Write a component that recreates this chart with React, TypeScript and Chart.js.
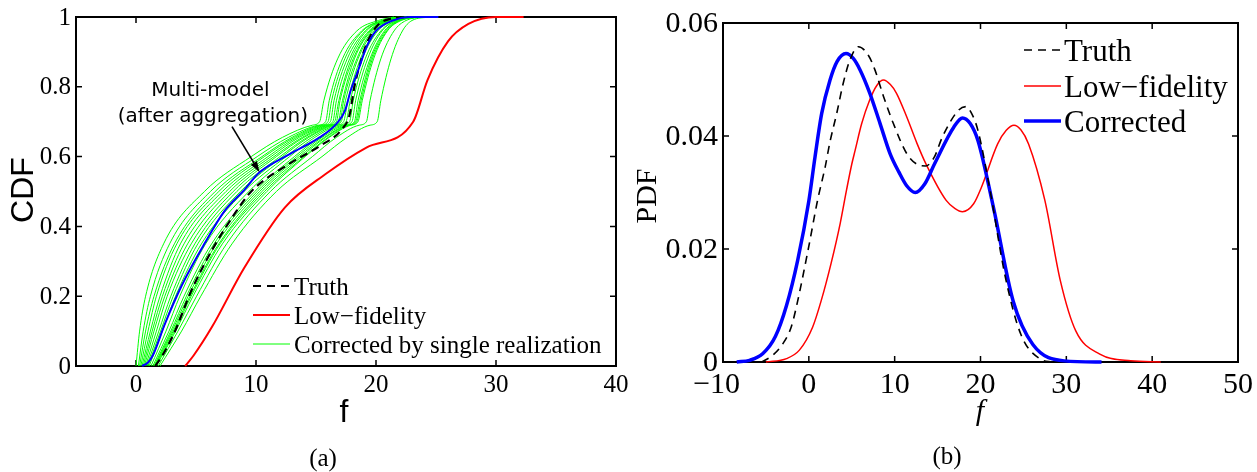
import React, { useEffect, useRef } from 'react';
import { Chart, registerables } from 'chart.js';

Chart.register(...registerables);

// ---------- Panel (a): CDF ----------
const CDF_X_TICKS = [0, 10, 20, 30, 40];
const CDF_Y_TICKS = [0, 0.2, 0.4, 0.6, 0.8, 1];

const CDF_LEVELS = [0, 0.1, 0.2, 0.35, 0.5, 0.6, 0.655, 0.69, 0.7, 0.76, 0.88, 0.96, 0.99, 1.0];
const GREEN_01 = [0.0, 0.3, 0.8, 2.3, 5.7, 9.6, 12.2, 14.7, 15.3, 15.65, 16.8, 18.4, 20.2, 21.5];
const GREEN_02 = [0.2, 0.6, 1.2, 2.8, 6.2, 10.1, 12.7, 15.2, 15.8, 16.1, 17.2, 18.8, 20.5, 21.8];
const GREEN_03 = [0.3, 0.8, 1.5, 3.2, 6.6, 10.5, 13.0, 15.4, 16.0, 16.3, 17.4, 18.9, 20.6, 21.9];
const GREEN_04 = [0.4, 1.0, 1.7, 3.4, 6.9, 10.7, 13.2, 15.6, 16.2, 16.5, 17.6, 19.1, 20.7, 22.0];
const GREEN_05 = [0.5, 1.2, 2.0, 3.7, 7.2, 11.0, 13.4, 15.8, 16.4, 16.7, 17.8, 19.2, 20.8, 22.2];
const GREEN_06 = [0.6, 1.35, 2.2, 4.0, 7.5, 11.25, 13.6, 15.95, 16.55, 16.9, 17.95, 19.4, 20.9, 22.3];
const GREEN_07 = [0.7, 1.5, 2.4, 4.3, 7.8, 11.5, 13.85, 16.1, 16.7, 17.0, 18.1, 19.5, 21.0, 22.4];
const GREEN_08 = [0.8, 1.7, 2.6, 4.6, 8.1, 11.7, 14.0, 16.25, 16.85, 17.2, 18.2, 19.6, 21.1, 22.5];
const GREEN_09 = [0.9, 1.9, 2.9, 4.9, 8.4, 12.0, 14.25, 16.4, 17.0, 17.3, 18.4, 19.7, 21.2, 22.55];
const GREEN_10 = [1.0, 2.05, 3.1, 5.15, 8.7, 12.2, 14.4, 16.5, 17.1, 17.45, 18.5, 19.85, 21.3, 22.6];
const GREEN_11 = [1.1, 2.2, 3.3, 5.45, 9.0, 12.5, 14.65, 16.7, 17.3, 17.65, 18.7, 20.0, 21.4, 22.8];
const GREEN_12 = [1.25, 2.5, 3.65, 5.8, 9.4, 12.8, 14.9, 16.9, 17.5, 17.85, 18.85, 20.15, 21.5, 22.9];
const GREEN_13 = [1.4, 2.75, 4.0, 6.3, 9.9, 13.2, 15.3, 17.2, 17.8, 18.1, 19.1, 20.4, 21.7, 23.1];
const GREEN_14 = [1.5, 2.9, 4.2, 6.5, 10.1, 13.4, 15.5, 17.4, 18.0, 18.3, 19.3, 20.5, 21.8, 23.2];
const GREEN_15 = [1.55, 3.0, 4.35, 6.7, 10.3, 13.6, 15.7, 17.6, 18.2, 18.5, 19.5, 20.7, 21.9, 23.3];
const GREEN_16 = [1.6, 3.1, 4.5, 6.9, 10.5, 13.8, 15.8, 17.7, 18.3, 18.65, 19.6, 20.8, 22.0, 23.4];
const GREEN_17 = [1.65, 3.2, 4.6, 7.0, 10.7, 14.0, 16.0, 17.8, 18.4, 18.75, 19.7, 20.9, 22.0, 23.45];
const GREEN_18 = [1.7, 3.3, 4.75, 7.2, 10.9, 14.1, 16.1, 17.9, 18.5, 18.85, 19.8, 20.95, 22.1, 23.5];
const GREEN_19 = [1.85, 3.5, 5.05, 7.55, 11.2, 14.7, 16.7, 18.6, 19.2, 19.5, 20.4, 21.5, 22.5, 23.9];
const GREEN_20 = [2.0, 3.8, 5.4, 8.0, 11.7, 15.5, 17.6, 19.5, 20.1, 20.4, 21.25, 22.2, 23.0, 24.5];
const GREEN_REALIZATIONS = [
  GREEN_01, GREEN_02, GREEN_03, GREEN_04, GREEN_05, GREEN_06, GREEN_07, GREEN_08, GREEN_09, GREEN_10,
  GREEN_11, GREEN_12, GREEN_13, GREEN_14, GREEN_15, GREEN_16, GREEN_17, GREEN_18, GREEN_19, GREEN_20,
];

const MULTI_CDF_F = [0.5, 1.0, 1.4, 2.4, 3.8, 5.7, 7.4, 8.9, 10.3, 12.8, 15.3, 16.7, 17.4, 17.9, 18.5, 19.2, 20.0, 21.4, 22.8, 25.2];
const MULTI_CDF_P = [0, 0.01, 0.03, 0.12, 0.23, 0.35, 0.445, 0.5, 0.555, 0.607, 0.655, 0.694, 0.73, 0.79, 0.846, 0.913, 0.96, 0.99, 1.0, 1.0];

const TRUTH_CDF_F = [1.6, 2.2, 3.25, 4.6, 6.3, 8.2, 9.6, 12.8, 15.3, 17.2, 17.8, 18.2, 18.75, 19.3, 20.1, 21.2, 22.6];
const TRUTH_CDF_P = [0, 0.03, 0.10, 0.215, 0.33, 0.435, 0.5, 0.58, 0.63, 0.68, 0.72, 0.80, 0.875, 0.93, 0.975, 0.995, 1.0];

const LOWFI_CDF_F = [4.1, 4.8, 6.3, 9.0, 12.4, 15.8, 19.2, 23.1, 24.3, 26.0, 27.7, 30.0, 32.3];
const LOWFI_CDF_P = [0, 0.03, 0.11, 0.28, 0.454, 0.55, 0.626, 0.70, 0.82, 0.93, 0.98, 1.0, 1.0];

const LEGEND_A_LABELS = ['Truth', 'Low\u2212fidelity', 'Corrected by single realization'];
const ANNOT_LINES = ['Multi-model', '(after aggregation)'];
const ANNOT_TEXT_AT = [[6.2, 0.788], [6.4, 0.713]];
const ANNOT_ARROW_FROM = [8.0, 0.686];
const ANNOT_ARROW_TO = [10.3, 0.555];

// ---------- Panel (b): PDF ----------
const PDF_X_TICKS = [-10, 0, 10, 20, 30, 40, 50];
const PDF_Y_TICKS = [0, 0.02, 0.04, 0.06];

const TRUTH_PDF_F = [-5.5, -4.2, -3.0, -2.05, -1.46, 0.0, 1.0, 1.9, 2.47, 3.25, 4.0, 4.8, 5.77, 6.93, 7.7, 8.7, 9.85, 11.4, 12.6, 13.6, 14.6, 15.55, 17.4, 18.3, 18.9, 19.7, 21.05, 22.9, 24.7, 27.0, 28.4];
const TRUTH_PDF_P = [0, 0.0012, 0.0033, 0.0062, 0.0097, 0.0205, 0.0285, 0.0345, 0.0390, 0.0440, 0.0493, 0.0535, 0.0558, 0.0543, 0.0517, 0.0470, 0.0422, 0.0369, 0.0350, 0.0347, 0.0362, 0.0398, 0.0445, 0.0452, 0.0442, 0.0410, 0.0309, 0.0150, 0.0049, 0.0005, 0];

const LOWFI_PDF_F = [-5.0, -2.6, -1.1, 0.45, 1.45, 2.6, 3.65, 4.4, 5.0, 5.4, 6.16, 7.1, 7.9, 8.7, 9.5, 10.2, 11.4, 12.6, 13.6, 16.0, 17.0, 17.9, 19.2, 20.1, 22.0, 23.0, 23.9, 24.7, 25.6, 27.5, 29.3, 31.1, 33.9, 37.5, 41.0];
const LOWFI_PDF_P = [0, 0.0006, 0.0021, 0.0062, 0.0109, 0.0175, 0.0245, 0.0305, 0.0350, 0.0375, 0.0422, 0.0464, 0.0489, 0.0499, 0.0491, 0.0476, 0.0434, 0.0387, 0.0352, 0.0286, 0.0272, 0.0266, 0.0280, 0.0309, 0.0386, 0.0410, 0.0419, 0.0411, 0.0386, 0.0286, 0.0144, 0.0055, 0.0014, 0.0002, 0];

const CORR_PDF_F = [-8.4, -6.9, -5.35, -3.9, -2.6, -1.3, 0.0, 0.72, 1.5, 2.47, 3.3, 4.33, 5.2, 5.97, 7.1, 8.3, 9.46, 10.5, 11.4, 12.4, 13.5, 14.65, 16.9, 17.9, 18.8, 19.7, 21.5, 23.8, 26.1, 29.75, 34.1];
const CORR_PDF_P = [0, 0.0003, 0.0015, 0.0045, 0.0100, 0.0180, 0.0285, 0.0363, 0.0440, 0.0499, 0.0532, 0.0546, 0.0537, 0.0517, 0.0476, 0.0422, 0.0369, 0.0336, 0.0312, 0.0300, 0.0315, 0.0351, 0.0416, 0.0432, 0.0422, 0.0392, 0.0274, 0.0108, 0.0031, 0.0002, 0];

const LEGEND_B_LABELS = ['Truth', 'Low\u2212fidelity', 'Corrected'];

// ---------- helpers ----------
const SERIF = '"Liberation Serif", "Times New Roman", serif';
const SANS = '"Liberation Sans", Arial, sans-serif';

const toPoints = (xs: number[], ys: number[]) => xs.map((v, i) => ({ x: v, y: ys[i] }));
const fmtTick = (v: number) => (v < 0 ? '\u2212' + String(Math.abs(v)) : String(v));

function drawFrame(chart: any, tickLen: number) {
  const { ctx, chartArea, scales } = chart;
  const { left, right, top, bottom } = chartArea;
  ctx.save();
  ctx.strokeStyle = '#000';
  ctx.lineWidth = 2;
  ctx.strokeRect(left, top, right - left, bottom - top);
  ctx.lineWidth = 1.5;
  ctx.beginPath();
  scales.x.ticks.forEach((t: any) => {
    const px = scales.x.getPixelForValue(t.value);
    ctx.moveTo(px, bottom); ctx.lineTo(px, bottom - tickLen);
    ctx.moveTo(px, top); ctx.lineTo(px, top + tickLen);
  });
  scales.y.ticks.forEach((t: any) => {
    const py = scales.y.getPixelForValue(t.value);
    ctx.moveTo(left, py); ctx.lineTo(left + tickLen, py);
    ctx.moveTo(right, py); ctx.lineTo(right - tickLen, py);
  });
  ctx.stroke();
  ctx.restore();
}

// tick labels drawn from the scales' own ticks
function drawTickLabels(chart: any, fontSize: number, xLabelMid: number, yGap: number, yShift: number) {
  const { ctx, chartArea, scales } = chart;
  ctx.save();
  ctx.fillStyle = '#000';
  ctx.font = `${fontSize}px ${SERIF}`;
  ctx.textBaseline = 'middle';
  scales.x.ticks.forEach((t: any) => {
    const px = scales.x.getPixelForValue(t.value);
    if (t.value < 0) {
      ctx.textAlign = 'right';
      ctx.fillText(fmtTick(t.value), px + fontSize * 0.57, xLabelMid);
    } else {
      ctx.textAlign = 'center';
      ctx.fillText(fmtTick(t.value), px, xLabelMid);
    }
  });
  ctx.textAlign = 'right';
  scales.y.ticks.forEach((t: any) => {
    ctx.fillText(fmtTick(t.value), chartArea.left - yGap, scales.y.getPixelForValue(t.value) + yShift);
  });
  ctx.restore();
}

function drawLegend(ctx: CanvasRenderingContext2D, items: { label: string; color: string; width: number; dash: number[] }[],
  x0: number, x1: number, tx: number, rows: number[], fontSize: number) {
  ctx.save();
  ctx.font = `${fontSize}px ${SERIF}`;
  ctx.textAlign = 'left';
  ctx.textBaseline = 'alphabetic';
  items.forEach((it, i) => {
    ctx.beginPath();
    ctx.strokeStyle = it.color;
    ctx.lineWidth = it.width;
    ctx.setLineDash(it.dash);
    ctx.moveTo(x0, rows[i]);
    ctx.lineTo(x1, rows[i]);
    ctx.stroke();
    ctx.setLineDash([]);
    ctx.fillStyle = '#000';
    ctx.fillText(it.label, tx, rows[i] + fontSize * 0.34);
  });
  ctx.restore();
}

function rotatedText(ctx: CanvasRenderingContext2D, text: string, x: number, y: number, font: string) {
  ctx.save();
  ctx.translate(x, y);
  ctx.rotate(-Math.PI / 2);
  ctx.font = font;
  ctx.fillStyle = '#000';
  ctx.textAlign = 'center';
  ctx.textBaseline = 'middle';
  ctx.fillText(text, 0, 0);
  ctx.restore();
}

const cdfDecor = {
  id: 'cdfDecor',
  beforeDatasetsDraw(chart: any) { drawFrame(chart, 6); drawTickLabels(chart, 25, 385.5, 5, 1); },
  afterDatasetsDraw(chart: any) {
    const { ctx, scales: { x, y } } = chart;
    ctx.save();
    ctx.fillStyle = '#000';
    ctx.font = '20px "DejaVu Sans", sans-serif';
    ctx.textAlign = 'center';
    ctx.textBaseline = 'middle';
    ANNOT_LINES.forEach((s, i) => {
      ctx.fillText(s, x.getPixelForValue(ANNOT_TEXT_AT[i][0]), y.getPixelForValue(ANNOT_TEXT_AT[i][1]));
    });
    const ax0 = x.getPixelForValue(ANNOT_ARROW_FROM[0]);
    const ay0 = y.getPixelForValue(ANNOT_ARROW_FROM[1]);
    const ax1 = x.getPixelForValue(ANNOT_ARROW_TO[0]);
    const ay1 = y.getPixelForValue(ANNOT_ARROW_TO[1]);
    const ang = Math.atan2(ay1 - ay0, ax1 - ax0);
    const hl = 11, hw = 3.5;
    ctx.strokeStyle = '#000';
    ctx.lineWidth = 1.6;
    ctx.beginPath();
    ctx.moveTo(ax0, ay0);
    ctx.lineTo(ax1 - hl * Math.cos(ang), ay1 - hl * Math.sin(ang));
    ctx.stroke();
    ctx.beginPath();
    ctx.moveTo(ax1, ay1);
    ctx.lineTo(ax1 - hl * Math.cos(ang) - hw * Math.sin(ang), ay1 - hl * Math.sin(ang) + hw * Math.cos(ang));
    ctx.lineTo(ax1 - hl * Math.cos(ang) + hw * Math.sin(ang), ay1 - hl * Math.sin(ang) - hw * Math.cos(ang));
    ctx.closePath();
    ctx.fill();
    ctx.restore();

    drawLegend(ctx, [
      { label: LEGEND_A_LABELS[0], color: '#000', width: 2.2, dash: [8, 6] },
      { label: LEGEND_A_LABELS[1], color: '#ff0000', width: 2, dash: [] },
      { label: LEGEND_A_LABELS[2], color: '#00ff00', width: 1, dash: [] },
    ], 253, 290, 294, [286, 315, 344], 25);

    rotatedText(ctx, 'CDF', 24, 190, `32px ${SANS}`);
    ctx.save();
    ctx.fillStyle = '#000';
    ctx.font = `32px ${SANS}`;
    ctx.textAlign = 'center';
    ctx.textBaseline = 'alphabetic';
    ctx.fillText('f', 344, 422);
    ctx.font = `25px ${SERIF}`;
    ctx.textBaseline = 'middle';
    ctx.fillText('(a)', 323, 459);
    ctx.restore();
  },
};

const pdfDecor = {
  id: 'pdfDecor',
  beforeDatasetsDraw(chart: any) { drawFrame(chart, 6); drawTickLabels(chart, 30, 385.5, 5, 1); },
  afterDatasetsDraw(chart: any) {
    const { ctx } = chart;
    drawLegend(ctx, [
      { label: LEGEND_B_LABELS[0], color: '#000', width: 1.6, dash: [8, 6] },
      { label: LEGEND_B_LABELS[1], color: '#ff0000', width: 1.5, dash: [] },
      { label: LEGEND_B_LABELS[2], color: '#0000ff', width: 3.5, dash: [] },
    ], 424, 461, 464, [50, 86, 121], 31);
    rotatedText(ctx, 'PDF', 48, 196, `30px ${SERIF}`);
    ctx.save();
    ctx.fillStyle = '#000';
    ctx.textAlign = 'center';
    ctx.textBaseline = 'middle';
    ctx.font = `italic 30px ${SERIF}`;
    ctx.fillText('f', 380, 412);
    ctx.font = `25px ${SERIF}`;
    ctx.fillText('(b)', 347, 457);
    ctx.restore();
  },
};

function lineDs(data: { x: number; y: number }[], color: string, width: number, order: number, dash: number[] = []) {
  return {
    data,
    borderColor: color,
    backgroundColor: color,
    borderWidth: width,
    borderDash: dash,
    pointRadius: 0,
    pointHoverRadius: 0,
    fill: false,
    cubicInterpolationMode: 'monotone' as const,
    order,
    clip: false as const,
  };
}

function axis(min: number, max: number, tickVals: number[], fitKey: 'height' | 'width', fitVal: number) {
  return {
    type: 'linear' as const,
    min,
    max,
    grid: { display: false, drawTicks: false },
    border: { display: false },
    ticks: { display: false, autoSkip: false },
    afterBuildTicks: (s: any) => { s.ticks = tickVals.map((v) => ({ value: v })); },
    afterFit: (s: any) => { s[fitKey] = fitVal; },
  };
}

function cdfConfig(): any {
  const greens = GREEN_REALIZATIONS.map((g) => lineDs(toPoints(g, CDF_LEVELS), '#00ff00', 1, 3));
  return {
    type: 'line',
    data: {
      datasets: [
        lineDs(toPoints(MULTI_CDF_F, MULTI_CDF_P), '#0000ff', 2, 0),
        lineDs(toPoints(TRUTH_CDF_F, TRUTH_CDF_P), '#000000', 2.2, 1, [8, 5]),
        lineDs(toPoints(LOWFI_CDF_F, LOWFI_CDF_P), '#ff0000', 2, 2),
        ...greens,
      ],
    },
    options: {
      animation: false,
      responsive: false,
      devicePixelRatio: 1,
      events: [],
      layout: { padding: { left: 0, top: 17, right: 24, bottom: 0 } },
      plugins: { legend: { display: false }, tooltip: { enabled: false } },
      scales: {
        x: { ...axis(-5, 40, CDF_X_TICKS, 'height', 106), position: 'bottom' },
        y: { ...axis(0, 1, CDF_Y_TICKS, 'width', 76), position: 'left' },
      },
    },
    plugins: [cdfDecor],
  };
}

function pdfConfig(): any {
  return {
    type: 'line',
    data: {
      datasets: [
        lineDs(toPoints(TRUTH_PDF_F, TRUTH_PDF_P), '#000000', 1.6, 0, [8, 6]),
        lineDs(toPoints(LOWFI_PDF_F, LOWFI_PDF_P), '#ff0000', 1.5, 2),
        lineDs(toPoints(CORR_PDF_F, CORR_PDF_P), '#0000ff', 3.5, 1),
      ],
    },
    options: {
      animation: false,
      responsive: false,
      devicePixelRatio: 1,
      events: [],
      layout: { padding: { left: 0, top: 23, right: 19, bottom: 0 } },
      plugins: { legend: { display: false }, tooltip: { enabled: false } },
      scales: {
        x: { ...axis(-10, 50, PDF_X_TICKS, 'height', 110), position: 'bottom' },
        y: { ...axis(0, 0.06, PDF_Y_TICKS, 'width', 123), position: 'left' },
      },
    },
    plugins: [pdfDecor],
  };
}

export default function App() {
  const leftRef = useRef<HTMLCanvasElement>(null);
  const rightRef = useRef<HTMLCanvasElement>(null);
  useEffect(() => {
    const c1 = new Chart(leftRef.current as HTMLCanvasElement, cdfConfig());
    const c2 = new Chart(rightRef.current as HTMLCanvasElement, pdfConfig());
    return () => { c1.destroy(); c2.destroy(); };
  }, []);
  return (
    <div style={{ position: 'absolute', left: 0, top: 0, width: 1257, height: 472, background: '#fff', overflow: 'hidden' }}>
      <canvas ref={leftRef} width={640} height={472} style={{ position: 'absolute', left: 0, top: 0, width: 640, height: 472 }} />
      <canvas ref={rightRef} width={657} height={472} style={{ position: 'absolute', left: 600, top: 0, width: 657, height: 472 }} />
    </div>
  );
}
